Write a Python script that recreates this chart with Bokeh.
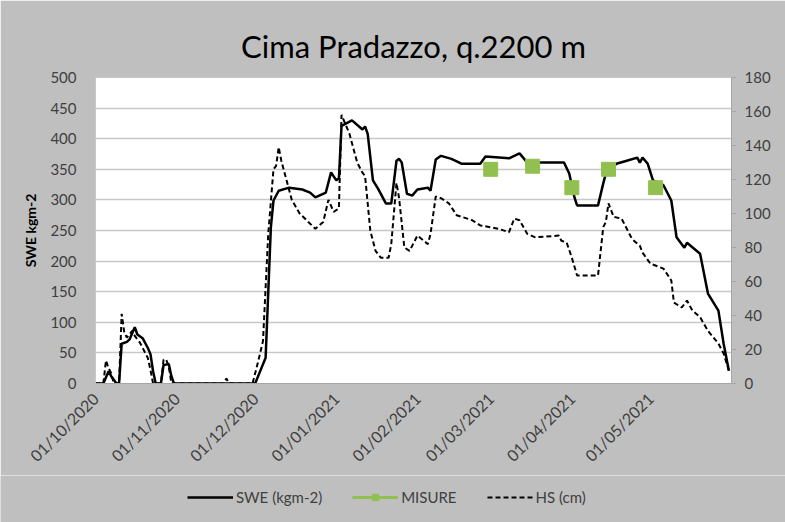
import pandas as pd
from math import pi
from bokeh.plotting import figure
from bokeh.layouts import column, row
from bokeh.models import (Range1d, LinearAxis, FixedTicker, DatetimeTickFormatter,
                          Legend, LegendItem, ColumnDataSource)
from bokeh.embed import file_html
from bokeh.resources import INLINE

# ---------------- data ----------------
swe_dates = ["2020-10-01", "2020-10-04", "2020-10-06", "2020-10-07", "2020-10-09", "2020-10-10",
             "2020-10-11", "2020-10-13", "2020-10-14", "2020-10-16", "2020-10-17", "2020-10-19",
             "2020-10-21", "2020-10-22", "2020-10-23", "2020-10-24", "2020-10-26", "2020-10-27",
             "2020-10-29", "2020-10-30", "2020-10-31", "2020-12-01", "2020-12-03", "2020-12-05",
             "2020-12-07", "2020-12-08", "2020-12-10", "2020-12-14", "2020-12-19", "2020-12-22",
             "2020-12-24", "2020-12-28", "2020-12-30", "2021-01-01", "2021-01-02", "2021-01-03",
             "2021-01-07", "2021-01-11", "2021-01-12", "2021-01-13", "2021-01-15", "2021-01-17",
             "2021-01-20", "2021-01-22", "2021-01-24", "2021-01-25", "2021-01-26", "2021-01-28",
             "2021-01-30", "2021-02-01", "2021-02-05", "2021-02-06", "2021-02-08", "2021-02-10",
             "2021-02-14", "2021-02-18", "2021-02-25", "2021-02-27", "2021-03-08", "2021-03-12",
             "2021-03-15", "2021-03-20", "2021-03-29", "2021-03-31", "2021-04-02", "2021-04-03",
             "2021-04-11", "2021-04-13", "2021-04-14", "2021-04-18", "2021-04-22", "2021-04-26",
             "2021-04-27", "2021-04-28", "2021-04-30", "2021-05-02", "2021-05-06", "2021-05-09",
             "2021-05-11", "2021-05-14", "2021-05-15", "2021-05-20", "2021-05-23", "2021-05-27",
             "2021-05-29", "2021-05-31"]
swe_values = [0, 0, 20, 12, 0, 0,
              65, 68, 72, 92, 80, 74,
              58, 48, 20, 0, 0, 30,
              32, 12, 0, 0, 21, 42,
              255, 299, 315, 320, 317, 312,
              304, 312, 345, 332, 335, 421,
              430, 415, 420, 408, 332, 318,
              294, 294, 364, 367, 361, 310,
              307, 317, 320, 315, 366, 372,
              367, 359, 359, 371, 368, 376,
              361, 361, 361, 343, 304, 291,
              291, 327, 343, 359, 364, 369,
              361, 369, 359, 332, 324, 299,
              239, 222, 230, 212, 147, 119,
              65, 21]

hs_dates = ["2020-10-01", "2020-10-04", "2020-10-05", "2020-10-06", "2020-10-07", "2020-10-08",
            "2020-10-10", "2020-10-11", "2020-10-12", "2020-10-13", "2020-10-15", "2020-10-16",
            "2020-10-18", "2020-10-20", "2020-10-21", "2020-10-22", "2020-10-23", "2020-10-26",
            "2020-10-27", "2020-10-28", "2020-10-29", "2020-10-30", "2020-11-19", "2020-11-20",
            "2020-11-21", "2020-11-30", "2020-12-02", "2020-12-04", "2020-12-06", "2020-12-08",
            "2020-12-09", "2020-12-10", "2020-12-11", "2020-12-15", "2020-12-18", "2020-12-24",
            "2020-12-27", "2020-12-29", "2020-12-31", "2021-01-02", "2021-01-03", "2021-01-06",
            "2021-01-09", "2021-01-11", "2021-01-12", "2021-01-14", "2021-01-16", "2021-01-18",
            "2021-01-21", "2021-01-22", "2021-01-24", "2021-01-25", "2021-01-27", "2021-01-29",
            "2021-02-01", "2021-02-05", "2021-02-06", "2021-02-08", "2021-02-10", "2021-02-13",
            "2021-02-16", "2021-02-22", "2021-02-25", "2021-03-04", "2021-03-08", "2021-03-10",
            "2021-03-12", "2021-03-15", "2021-03-18", "2021-03-27", "2021-03-28", "2021-03-30",
            "2021-04-01", "2021-04-03", "2021-04-11", "2021-04-13", "2021-04-14", "2021-04-15",
            "2021-04-17", "2021-04-20", "2021-04-24", "2021-04-27", "2021-04-28", "2021-05-01",
            "2021-05-06", "2021-05-09", "2021-05-10", "2021-05-13", "2021-05-15", "2021-05-17",
            "2021-05-20", "2021-05-23", "2021-05-27", "2021-05-29", "2021-05-31"]
hs_values = [0, 0, 13.5, 9, 6, 0,
             0, 41, 30, 27, 31, 28,
             24, 18, 15, 8, 0, 0,
             14, 14, 10, 0, 0, 3,
             0, 0, 12, 25, 88, 126,
             128, 139, 131, 108, 100, 91,
             95, 108, 101, 103, 158, 147,
             130, 124, 122, 90, 78, 74,
             74, 82, 118, 109, 80, 78,
             87, 82, 88, 110, 109, 106,
             99, 96, 93, 91, 89, 97,
             96, 88, 86, 87, 84, 83,
             74, 63.5, 63.5, 92, 95, 106,
             98, 97, 85, 81, 77, 70.5,
             67.6, 60.6, 47.6, 44.7, 48.8, 43,
             39, 31, 23.5, 17.6, 7.6]

misure_dates = ["2021-03-01", "2021-03-17", "2021-04-01", "2021-04-15", "2021-05-03"]
misure_values = [350, 355, 320, 350, 320]

x_tick_dates = ["2020-10-01", "2020-11-01", "2020-12-01", "2021-01-01",
                "2021-02-01", "2021-03-01", "2021-04-01", "2021-05-01"]
swe_ticks = [0, 50, 100, 150, 200, 250, 300, 350, 400, 450, 500]
hs_ticks = [0, 20, 40, 60, 80, 100, 120, 140, 160, 180]

legend_labels = ["SWE (kgm-2)", "MISURE", "HS (cm)"]

# ---------------- helpers ----------------
def ts(s):
    return pd.Timestamp(s)

def ms(s):
    return pd.Timestamp(s).value // 10**6

FONT = "Lato"
GRAY_BG = "#bfbfbf"
TXT = "#404040"
GREEN = "#92c050"

p = figure(width=785, height=475, x_axis_type="datetime",
           x_range=Range1d(ts("2020-10-01"), ts("2021-06-01")),
           y_range=Range1d(0, 500),
           output_backend="svg", toolbar_location=None,
           min_border_left=95, min_border_right=54, min_border_top=77, min_border_bottom=92,
           background_fill_color="white", border_fill_color=GRAY_BG,
           outline_line_color="#c8c8c8")

p.title.text = "Cima Pradazzo, q.2200 m"
p.title.align = "center"
p.title.text_font = FONT
p.title.text_font_size = "31px"
p.title.text_font_style = "normal"
p.title.text_color = "black"
p.title.standoff = 26

# grid
p.xgrid.visible = False
p.ygrid.ticker = FixedTicker(ticks=swe_ticks)
p.ygrid.grid_line_color = "#c8c8c8"
p.ygrid.grid_line_width = 1.5

# left axis
yl = p.yaxis[0]
yl.ticker = FixedTicker(ticks=swe_ticks)
yl.axis_label = "SWE kgm-2"
yl.axis_label_text_font = FONT
yl.axis_label_text_font_style = "bold"
yl.axis_label_text_font_size = "14px"
yl.axis_label_text_color = "black"
yl.axis_label_standoff = 8
yl.major_label_text_font = FONT
yl.major_label_text_font_size = "15px"
yl.major_label_text_color = TXT
yl.major_tick_line_color = None
yl.minor_tick_line_color = None
yl.axis_line_color = "#c8c8c8"
yl.major_label_standoff = 13

# right axis
p.extra_y_ranges = {"hs": Range1d(0, 180)}
yr = LinearAxis(y_range_name="hs", ticker=FixedTicker(ticks=hs_ticks))
yr.major_label_text_font = FONT
yr.major_label_text_font_size = "15px"
yr.major_label_text_color = TXT
yr.major_tick_in = 0
yr.major_tick_out = 5
yr.major_tick_line_color = "#a6a6a6"
yr.minor_tick_line_color = None
yr.axis_line_color = "#a6a6a6"
yr.major_label_standoff = 8
p.add_layout(yr, "right")

# x axis
xa = p.xaxis[0]
xa.ticker = FixedTicker(ticks=[ms(d) for d in x_tick_dates])
fmt = "%d/%m/%Y"
xa.formatter = DatetimeTickFormatter(milliseconds=fmt, seconds=fmt, minsec=fmt, minutes=fmt,
                                     hourmin=fmt, hours=fmt, days=fmt, months=fmt, years=fmt)
xa.major_label_orientation = pi / 4
xa.major_label_text_font = FONT
xa.major_label_text_font_size = "16px"
xa.major_label_text_color = TXT
xa.major_tick_line_color = None
xa.minor_tick_line_color = None
xa.axis_line_color = "#a6a6a6"
xa.major_label_standoff = 6

# series
swe_src = ColumnDataSource(dict(x=[ts(d) for d in swe_dates], y=swe_values))
hs_src = ColumnDataSource(dict(x=[ts(d) for d in hs_dates], y=hs_values))
mis_src = ColumnDataSource(dict(x=[ts(d) for d in misure_dates], y=misure_values))

SWE_STYLE = dict(line_color="black", line_width=2.5)
HS_STYLE = dict(line_color="black", line_width=2, line_dash="5 3")

p.line("x", "y", source=hs_src, y_range_name="hs", **HS_STYLE)
p.line("x", "y", source=swe_src, **SWE_STYLE)
p.scatter("x", "y", source=mis_src, marker="square", size=14,
          fill_color=GREEN, line_color=GREEN)

# ---------------- legend strip (same background) ----------------
lg = figure(width=785, height=47, x_range=Range1d(0, 1), y_range=Range1d(0, 1),
            output_backend="svg", toolbar_location=None,
            min_border_left=0, min_border_right=0, min_border_top=0, min_border_bottom=0,
            background_fill_color=GRAY_BG, border_fill_color=None,
            outline_line_color=None, x_axis_location=None, y_axis_location=None)
lg.outline_line_color = None
lg.xgrid.visible = False
lg.ygrid.visible = False
# legend-only renderers: their points lie outside the visible range
off = dict(x=[5, 6], y=[5, 6])
r_swe = lg.line(x=off["x"], y=off["y"], **SWE_STYLE)
r_mis_l = lg.line(x=off["x"], y=off["y"], line_color=GREEN, line_width=3)
r_mis_s = lg.scatter(x=off["x"], y=off["y"], marker="square", size=11,
                     fill_color=GREEN, line_color=GREEN)
r_hs = lg.line(x=off["x"], y=off["y"], **HS_STYLE)

legend = Legend(items=[LegendItem(label=legend_labels[0], renderers=[r_swe]),
                       LegendItem(label=legend_labels[1], renderers=[r_mis_l, r_mis_s]),
                       LegendItem(label=legend_labels[2], renderers=[r_hs])],
                orientation="horizontal", location=(187, 16),
                background_fill_alpha=0, border_line_color=None,
                label_text_font=FONT, label_text_font_size="15px", label_text_color=TXT,
                glyph_width=46, glyph_height=16, spacing=30, label_standoff=3,
                padding=0, margin=0)
lg.add_layout(legend, "center")

layout = column(p, row(lg, spacing=0), spacing=0)
open("out.html", "w").write(file_html(layout, INLINE))
